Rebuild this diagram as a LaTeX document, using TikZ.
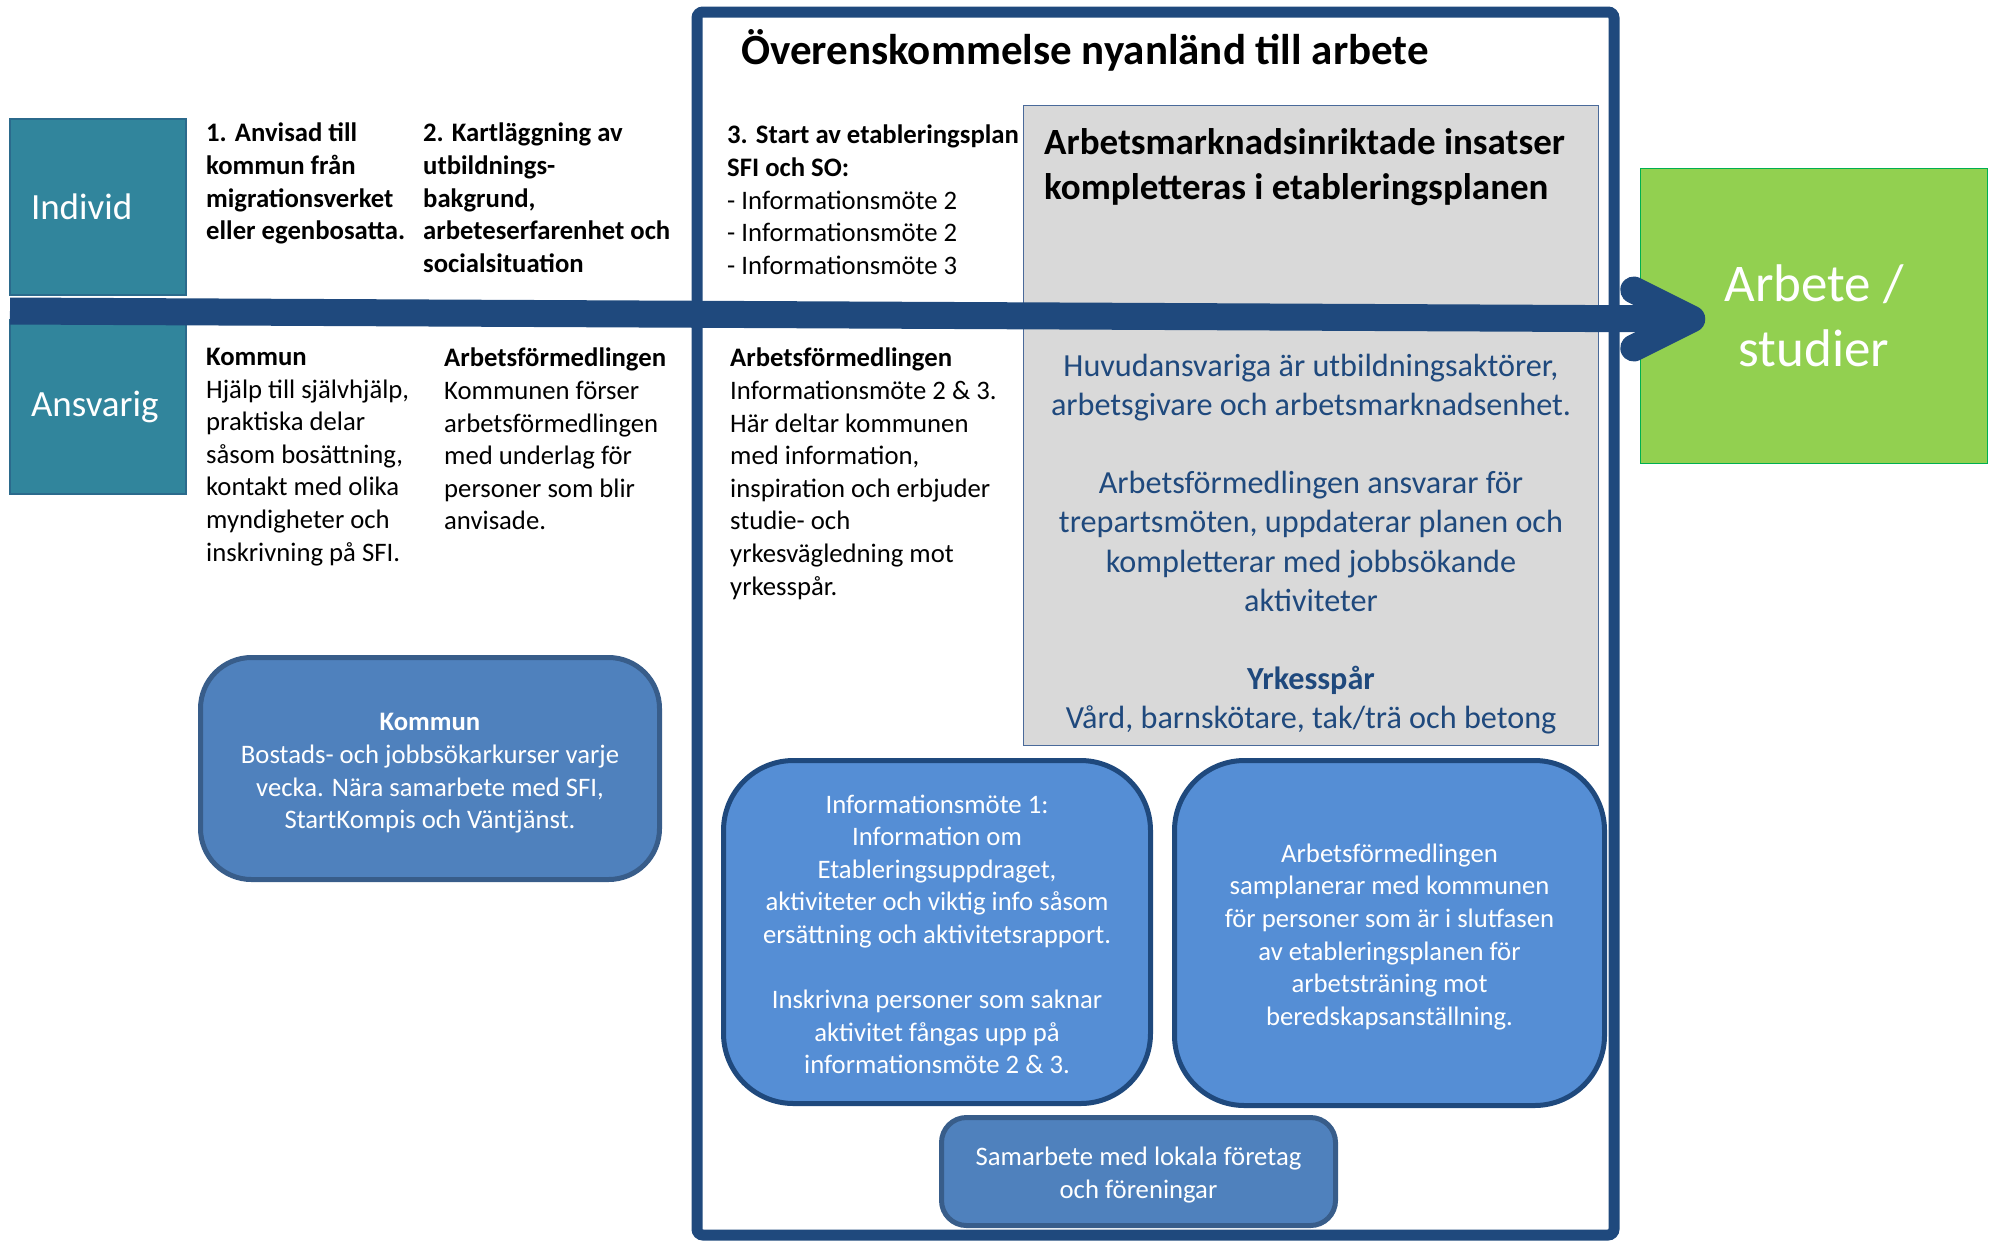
\documentclass[tikz,border=0pt]{standalone}
\usepackage{fontspec}
\setmainfont{Carlito}
\usetikzlibrary{calc}

\definecolor{navy}{HTML}{1F497D}
\definecolor{tealfill}{HTML}{31859C}
\definecolor{tealline}{HTML}{2B6A8C}
\definecolor{planfill}{HTML}{D9D9D9}
\definecolor{planline}{HTML}{4A6A9A}
\definecolor{goalfill}{HTML}{92D050}
\definecolor{goalline}{HTML}{00B050}
\definecolor{midblue}{HTML}{4F81BD}
\definecolor{midline}{HTML}{385D8A}
\definecolor{lightblue}{HTML}{558ED5}

\newcommand{\bodyfont}{\fontsize{26.7}{32.6}\selectfont}

\begin{document}
\begin{tikzpicture}[x=1pt,y=-1pt,
  stage/.style={fill=tealfill, draw=tealline, line width=1.5pt, text=white, font=\fontsize{37}{45}\selectfont,
    text width=134pt, inner xsep=21pt, align=left, minimum height=176pt},
  txt/.style={anchor=north west, align=left, inner sep=0pt, font=\bodyfont},
  card/.style={fill=midblue, draw=midline, line width=5pt, text=white, align=center, font=\bodyfont, inner sep=0pt},
  infocard/.style={card, fill=lightblue, draw=navy, rounded corners=70pt},
  band/.style={draw=navy, line width=27pt}]
  \useasboundingbox (0,0) rectangle (1993,1240);

  % ram och grå ruta
  \node[draw=navy, line width=11pt, rounded corners=6pt, minimum width=917pt, minimum height=1223pt] (frame) at (1155.5,623.5) {};
  \node[fill=planfill, draw=planline, line width=1.5pt, minimum width=575pt, minimum height=640pt] (plan) at (1311,425.5) {};
  \node[anchor=west, inner sep=0pt, font=\fontsize{43}{51}\selectfont\bfseries] (title) at (741,50) {Överenskommelse nyanländ till arbete};

  \node[stage, minimum height=176pt] (individ) at (98,207) {Individ};
  \node[stage, minimum height=174pt] (ansvarig) at (98,407) {Ansvarig};

  % steg
  \node[txt, font=\bodyfont\bfseries] (step1) at (206,123) {1. Anvisad till\\kommun från\\migrationsverket\\eller egenbosatta.};
  \node[txt, font=\bodyfont\bfseries] (step2) at (423,123) {2. Kartläggning av\\utbildnings-\\bakgrund,\\arbeteserfarenhet och\\socialsituation};
  \node[txt] (step3) at (727,125) {\textbf{3. Start av etableringsplan}\\\textbf{SFI och SO:}\\- Informationsmöte 2\\- Informationsmöte 2\\- Informationsmöte 3};

  \node[txt] (ansv1) at (206,348) {\textbf{Kommun}\\Hjälp till självhjälp,\\praktiska delar\\såsom bosättning,\\kontakt med olika\\myndigheter och\\inskrivning på SFI.};
  \node[txt] (ansv2) at (444,348) {\textbf{Arbetsförmedlingen}\\Kommunen förser\\arbetsförmedlingen\\med underlag för\\personer som blir\\anvisade.};
  \node[txt] (ansv3) at (730,348) {\textbf{Arbetsförmedlingen}\\Informationsmöte 2 \& 3.\\Här deltar kommunen\\med information,\\inspiration och erbjuder\\studie- och\\yrkesvägledning mot\\yrkesspår.};

  \node[txt, font=\fontsize{37}{45.8}\selectfont\bfseries] (plantitle) at (1044,128) {Arbetsmarknadsinriktade insatser\\kompletteras i etableringsplanen};
  \node[align=center, inner sep=0pt, text=navy, font=\fontsize{32.2}{39.2}\selectfont] (plantext) at (1311,544)
    {Huvudansvariga är utbildningsaktörer,\\arbetsgivare och arbetsmarknadsenhet.\\[39.2pt]Arbetsförmedlingen ansvarar för\\trepartsmöten, uppdaterar planen och\\kompletterar med jobbsökande\\aktiviteter\\[39.2pt]\textbf{Yrkesspår}\\Vård, barnskötare, tak/trä och betong};

  % rundade rutor
  \node[card, rounded corners=51pt, minimum width=459pt, minimum height=222pt] (kommun) at (430,768.5)
    {\rule{0pt}{27pt}\textbf{Kommun}\\Bostads- och jobbsökarkurser varje\\vecka. Nära samarbete med SFI,\\StartKompis och Väntjänst.};
  \node[infocard, minimum width=427pt, minimum height=343pt] (info1) at (937,932)
    {\rule{0pt}{23pt}Informationsmöte 1:\\Information om\\Etableringsuppdraget,\\aktiviteter och viktig info såsom\\ersättning och aktivitetsrapport.\\[32.6pt]Inskrivna personer som saknar\\aktivitet fångas upp på\\informationsmöte 2 \& 3.};
  \node[infocard, minimum width=430pt, minimum height=345pt] (info2) at (1389.5,933)
    {\rule{0pt}{26pt}Arbetsförmedlingen\\samplanerar med kommunen\\för personer som är i slutfasen\\av etableringsplanen för\\arbetsträning mot\\beredskapsanställning.};
  \node[card, rounded corners=25pt, minimum width=394pt, minimum height=108pt] (samarbete) at (1138.5,1171.5)
    {\rule{0pt}{26pt}Samarbete med lokala företag\\och föreningar};

  \node[fill=goalfill, draw=goalline, line width=1.5pt, minimum width=347pt, minimum height=295pt, align=center,
    text=white, font=\fontsize{53}{65}\selectfont] (goal) at (1814,316) {Arbete /\\studier};

  % pilen
  \coordinate (bandstart) at (10,311);
  \coordinate (tip) at ($(goal.west)+(52,3)$);
  \draw[band] (bandstart) -- (tip);
  \draw[band, line cap=round, line join=round] ($(tip)+(-58,-29)$) -- (tip) -- ($(tip)+(-58,29)$);
\end{tikzpicture}
\end{document}
